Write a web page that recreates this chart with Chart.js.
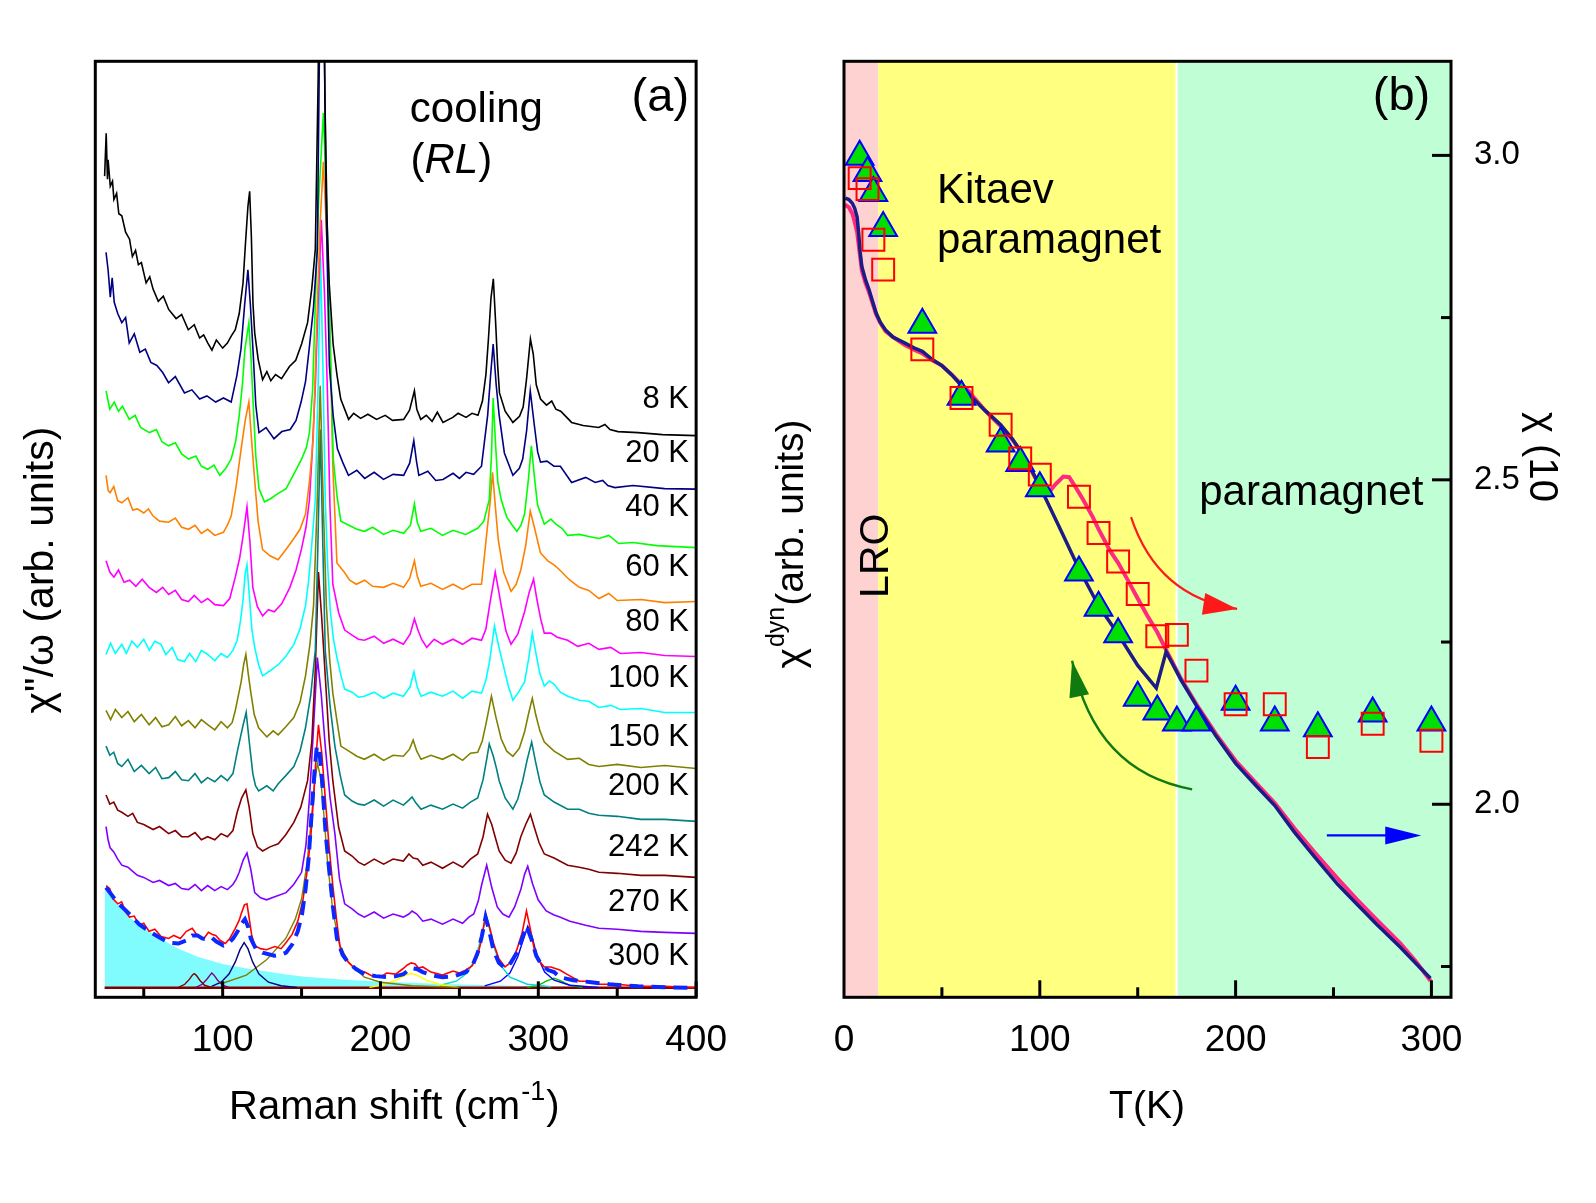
<!DOCTYPE html>
<html>
<head>
<meta charset="utf-8">
<script src="https://cdn.jsdelivr.net/npm/chart.js@4.4.0/dist/chart.umd.min.js"></script>
<style>
  html, body { margin: 0; padding: 0; background: #fff; }
  #wrap { position: relative; width: 1596px; height: 1203px; }
  canvas { position: absolute; top: 0; }
  #ca { left: 0; }
  #cb { left: 740px; }
</style>
</head>
<body>
<div id="wrap">
  <canvas id="ca" width="740" height="1203"></canvas>
  <canvas id="cb" width="856" height="1203"></canvas>
</div>
<script>
// ---------------- panel (a): Raman spectra, [shift cm-1, chi''/omega offset] ----------------
const ramanTicks = [100, 200, 300, 400];
const ramanMinor = [50, 150, 250, 350];
const tempNames = ['8 K', '20 K', '40 K', '60 K', '80 K', '100 K', '150 K', '200 K', '242 K', '270 K', '300 K'];

const spec8K = [[25.2,80.5],[26.2,84.7],[27.0,80.2],[27.4,82.1],[28.8,79.5],[30.2,80],[31.1,78.2],[32.8,78.8],[34.2,76.8],[36.1,76.6],[38.5,75],[41,74.3],[42.8,72.6],[44.8,73.2],[46.6,71.8],[48.5,72],[51.5,70],[53.8,70.6],[55.9,69.4],[59.2,68.2],[62.4,68.7],[65.8,67.4],[70.5,66.5],[74,66.9],[78.2,65.4],[82,65.9],[85.4,64.6],[88,64.9],[90.6,64.1],[93.2,63.4],[96,64.4],[100,63.6],[103,64.1],[105.5,64.8],[108,65.4],[110.5,67],[112.9,70],[114.5,74],[116,77.5],[117.1,79],[118.2,74.5],[119.2,68],[120.3,65.1],[122.5,62.5],[125.3,60.5],[128,61.3],[130.5,60.4],[133.5,61],[137.3,60.6],[142.3,61.8],[146.3,62.4],[150,64],[153.8,66.1],[156.5,69.5],[158.7,73.3],[160.5,90],[162,112],[163.2,112],[164.8,88],[166.2,76],[167.5,70],[170,64],[172.4,61],[174.8,58.6],[179.8,56.6],[183,57.2],[187.4,56.7],[192,57.1],[197.5,56.6],[203,57],[207.6,56.5],[214.7,56.6],[218.4,57.5],[220.2,58.6],[221.5,59.4],[223,57.6],[225.5,56.6],[229,57],[232.7,56.4],[236,57.3],[239.6,56.3],[245.8,56.8],[249.2,57.2],[254.2,56.8],[258,57.2],[261.8,57],[264.6,58.4],[266.8,61],[268.4,64.5],[270,68.5],[271.5,70.4],[273,66],[274.2,62],[275.4,59.2],[279,57.4],[283.9,56.3],[288.1,56.9],[290.4,57.8],[292.5,60.5],[295,64.5],[296.8,63],[298.7,60],[301.4,58.6],[305.2,58],[308.5,58.4],[311.1,57.6],[314.2,57.4],[321.1,56.3],[328.4,56],[338.3,55.8],[342.2,56.1],[345.4,55.6],[350.5,55.4],[363.2,55.3],[378.7,55.1],[400,55]];

const spec20K = [[26.1,73],[27.4,71.3],[28.8,68.6],[30,70.5],[31.3,68.1],[33.5,67],[36.1,66.1],[38.5,66.6],[40.8,64.1],[44,65],[47.5,63.2],[51,63.5],[54.5,62.2],[58.3,61.9],[62,61.2],[65.7,60.2],[70,60.8],[75.8,59.2],[80.5,59.5],[85.4,58.6],[90,58.9],[95.6,58.3],[100.5,58.7],[105.4,58.3],[109,60.9],[111.6,63.5],[114,68],[116,71.3],[117.5,68],[119.2,63.5],[121,58],[123,55.3],[127.5,55.8],[132.5,54.7],[137.5,55.4],[142.8,55.6],[146.5,56.5],[149.7,58.3],[152.5,60.3],[154.8,63.5],[157.5,67.5],[160,73.3],[161.8,100],[162.8,115],[164,100],[165.5,78],[167.6,61.9],[170,57],[172.7,53.7],[176,52.4],[179.7,51.1],[185,51.6],[190,50.8],[196,51.4],[201.9,50.7],[208,51.2],[214.7,51.1],[218.5,52.3],[221.1,54.5],[222.8,52.5],[224.3,51.1],[230,51.5],[235,50.6],[239.6,50.7],[246,51.3],[250,50.8],[254.2,51.4],[259,51.2],[264,52],[267.9,57],[269.8,61],[271.4,64],[273.3,60],[275.2,57],[278.5,53.3],[283.9,51.1],[288,51.8],[290.1,52.7],[292.6,55.5],[294.9,59.4],[297.5,56],[299.6,53.4],[301.4,52.4],[305.5,52.5],[309.9,52],[314,52],[321.1,50.4],[330,50.9],[336,50.4],[340.8,50.6],[344,50.1],[348.5,49.9],[360,50.1],[380,49.8],[400,49.75]];

const spec40K = [[26.1,59.4],[28.5,57.6],[31.3,58.3],[34,57.4],[36.5,57.9],[40.8,56.6],[44.5,57],[48,55.8],[53.6,55.3],[58,55.6],[61.5,54.4],[65.7,54],[70,54.3],[74,53.2],[78.4,52.7],[83,53],[86.5,52],[90.5,51.7],[94.5,52.1],[98.2,51.1],[102,51.8],[105.4,52.7],[108.3,54.5],[110.5,57],[112.5,60],[114.1,63.5],[116.6,66.1],[118,62.5],[119.2,58.6],[121,53],[123,49.8],[126.5,48.5],[130.3,48.8],[135,49.3],[140.2,49.8],[145,51.2],[150,52.7],[153,53.8],[155,55.3],[157,59.5],[158.7,68],[160.8,78],[163.8,86.7],[165.8,78],[167.6,67.8],[169,59],[170.1,52.7],[172.5,49],[174.9,46.6],[180,46.2],[185,45.8],[189.9,45.6],[195,46],[202,45.3],[208,45.7],[214.7,45.4],[219,46.2],[221.5,48.3],[223.3,46.5],[225.5,45.6],[232,45.9],[239.3,45.2],[246,45.7],[254,45.3],[261.6,45.9],[265.5,46.6],[268.9,48.7],[270.3,53],[271.4,58.7],[272.8,54.5],[274.3,50.5],[276.5,48.7],[280,47],[283.5,46.2],[286.4,45.6],[289,46.2],[291.3,47.3],[293.6,50.5],[295.6,54],[297.5,51],[299.5,48.2],[303.8,46.3],[308,46.8],[311.2,46.3],[315,45.9],[318.6,45.2],[326,45.3],[332,45.1],[338.3,44.9],[344.7,45.2],[351,44.4],[360,44.5],[375,44.2],[400,44]];

const spec60K = [[26.1,51.1],[27.5,49.6],[28.7,49.4],[31,50],[33.5,48.6],[36.1,48.4],[40,48.9],[43,47.7],[46,47.8],[50,47.4],[53,47.8],[55.9,47.1],[60,46.6],[65.7,46.5],[70,46.9],[74,46],[78.4,45.8],[82.5,46.2],[86.5,45.4],[90.5,45.8],[95,45.2],[100.5,45.5],[103,46.2],[105.4,47.1],[108.5,50],[111.7,53.7],[114.3,56.5],[116.6,58.3],[118.6,54],[120.4,50.4],[122.5,46.5],[125.3,43.8],[130,43.2],[135.1,42.8],[140,43.8],[145.1,44.9],[149,45.8],[152.5,47.3],[155,50.5],[157.4,54.8],[160,67.8],[161.8,76],[163.8,81.9],[165.8,75],[167.6,67.8],[169.8,52],[172.4,42.5],[177,41.6],[180.5,40.8],[184.7,40.4],[190,40.8],[195,40.2],[201.9,40.1],[208,40.5],[214.7,40.1],[218.5,41],[221.5,42.7],[223.3,41.2],[225.5,40.2],[232,40.5],[239.3,39.9],[246,40.4],[252,39.9],[258,40.4],[264,40.4],[267.6,45.8],[269.5,48.5],[271,51.4],[272.8,48],[274.6,44.8],[278,41.6],[282.7,39.7],[286,40.4],[288.9,41.8],[292,44.2],[294.9,47.6],[297.5,46],[301.3,43.5],[306,42.7],[310,42.3],[313.6,41.8],[320,40.8],[326,40.1],[332,39.8],[338.4,39],[344.7,39.5],[350,38.8],[365,38.9],[380,38.6],[400,38.7]];

const spec80K = [[26.1,42.7],[28.5,41.6],[31.1,41.1],[34,41.8],[37.5,40.6],[41,40.8],[45,40.2],[49,40.9],[53.4,40.1],[58,39.6],[62,40.1],[65.8,39.4],[70,39.8],[74,38.9],[78.3,38.7],[82,39.3],[86.5,38.6],[90.5,39],[95,38.4],[100.5,38.3],[104.5,39],[108,41.1],[110.8,43],[113,45.2],[115.4,48],[117.3,44.5],[119.1,40.1],[122,38.2],[125.3,37.3],[129,37.9],[132.7,37.7],[137.5,38.5],[142.6,40.1],[146.5,41.8],[150,43.9],[152.8,46],[155,48.7],[156.8,53.5],[158.7,59.8],[160.5,68],[162.5,76.2],[164.5,69],[166.3,59.8],[168,48],[169.8,40.4],[173.5,37.6],[177.3,35.9],[182,35.4],[186,35],[189.8,34.9],[196,35.3],[202,34.6],[208,35],[214.5,34.5],[218.8,35.5],[221.5,37],[223.5,36],[226,35],[229.3,34.2],[234,35],[239.3,34.5],[246,35],[252,34.5],[258,35.1],[264,34.9],[266.8,36],[269.1,38.3],[272.7,41.6],[274.6,40],[276.5,38.3],[279.5,35.8],[282.7,34.5],[287,35.5],[291.3,37.7],[294.2,39.6],[297,40.9],[299,39],[301.5,37],[303.8,35.6],[308,35.6],[312,35.2],[318.6,34.9],[325,34.3],[332,34.6],[338.4,34],[345.9,34.2],[352,33.6],[365,33.7],[380,33.4],[400,33.3]];

const spec100K = [[26.1,33.5],[29,34.6],[32,33.6],[36.1,34.5],[39,33.6],[42.5,34.8],[46,34.2],[50,35],[53.5,33.9],[57,34.8],[60.9,34.5],[64,33.5],[68,34.2],[71.5,33],[75.7,32.8],[79,33.6],[83,32.8],[86.5,33.9],[90.5,33.5],[95,32.9],[99,33.6],[103,33.2],[106.5,33.9],[109.2,34.9],[111.3,36.8],[113,39],[114.3,41.5],[115.4,42.3],[116.8,39.5],[118.5,36],[120.3,34.2],[122.8,32.5],[125.3,31.4],[130,31.9],[135.2,32.5],[140,33.3],[145.1,34.5],[149,36],[152.5,38.3],[154.5,40.8],[156.2,43.8],[158.7,48.7],[160.5,60],[162,72.6],[163.5,62],[165,48.7],[166.6,42],[168.2,37.8],[170.2,35],[172.4,33.2],[175,31.4],[177.3,30.1],[182,29.8],[186,29.3],[189.8,29.4],[196,29.8],[202,29.2],[208,29.7],[214.5,29.4],[218.7,30.3],[221.2,31.8],[223.3,30.3],[225.7,29.4],[232,29.8],[239.3,29.4],[246,29.9],[252,29.2],[258,29.9],[264,29.7],[266.8,31],[269.1,32.8],[272.2,36.3],[274.8,34.4],[277.7,32.5],[281,30.4],[283.9,29],[287.5,29.8],[291.3,30.8],[294,33.2],[296.2,35.6],[298.5,33.6],[301,31.6],[303.8,30.4],[307,30.9],[309.9,30.6],[314,29.8],[318.6,29.4],[326,29],[332,28.9],[338.4,28.3],[345.9,28.5],[352,28.1],[365,28.2],[380,27.8],[400,27.8]];

const spec150K = [[26.1,28],[29,27.1],[32,28.1],[36.1,27.3],[40,27.9],[44,26.9],[48.5,27.6],[53.4,26.6],[57.5,27.3],[61.5,26.4],[65.8,26.6],[70,27.4],[74,26.5],[78.3,27],[82.5,26.3],[86.5,27.1],[90.5,26.6],[95,26.1],[99,26.9],[103,26.3],[106,26.8],[108,28],[110,29.5],[111.7,30.8],[113.3,32.5],[114.7,33.5],[116.3,31.5],[117.9,29.7],[120,27.6],[122.8,26.3],[128,25.4],[132,26],[135.2,25.6],[140,26.4],[145.1,27.3],[149,28.8],[152.5,31.4],[155.3,34.5],[157.6,38.3],[159.8,48],[161.8,59.9],[163.8,48],[165.7,38.3],[167.8,33],[169.8,29.7],[172.4,27],[174.9,24.5],[180,24],[185,23.5],[189.8,23.2],[196,23.7],[202,23.1],[208,23.6],[214.5,23.5],[218.4,24.2],[220.7,25.1],[223,24],[225.7,23.2],[232,23.6],[239.3,23.2],[246,23.7],[252,23.1],[257,23.8],[261.6,23.9],[264.5,25],[267,26.8],[270.3,29.4],[273.2,27.3],[276.5,25.2],[280,24],[283.9,23.5],[288,24.3],[291.3,25.9],[294,27.8],[296.2,29.2],[298.5,27.5],[301,26],[303.8,24.9],[310,24],[318.6,23.2],[326,23.3],[332,22.7],[338.4,22.5],[350,22.7],[365,22.4],[380,22.6],[400,22.3]];

const spec200K = [[26.1,24.5],[28.5,23.6],[31,23.9],[33.5,22.8],[36.1,22.5],[40,23.2],[44,22],[48.5,22.6],[53.4,21.8],[57.5,22.4],[61.5,21.3],[65.8,21.4],[70,22],[74,21.2],[78.3,21.1],[82.5,21.8],[86.5,20.9],[90.5,21.4],[95,21],[99,21.6],[103,21.1],[106.5,21.8],[109.2,23.9],[111.3,25.4],[113,26.6],[114.9,27.8],[116.8,25],[119.1,21.8],[120.8,20.6],[122.8,20.1],[128,20.6],[132,20.1],[135.2,20.8],[140,21.6],[145.1,22.5],[149,24],[152.5,26.3],[155.8,29.5],[158.7,33.9],[160.3,44],[161.9,55.6],[163.5,44],[165,33.9],[168,28.5],[171.1,24.5],[174.5,21.6],[177.3,19.7],[182,19.1],[186,18.8],[189.8,18.7],[196,19.2],[202,18.6],[208,19.2],[214.5,18.7],[218,19.2],[220,19.5],[222.5,18.9],[225.7,18.3],[232,18.7],[239.3,18.3],[246,18.8],[252,18.4],[257,19],[261.6,19.4],[265,21.2],[267.5,23.4],[268.9,24.7],[271.5,23.5],[273.5,22.3],[275.2,21.1],[279,19.4],[283.9,18.3],[287,19.3],[290.1,21.1],[293,23.2],[295.8,24.9],[298.2,23],[301,21],[303.8,19.7],[310,19],[318.6,18.3],[326,18.3],[332,17.9],[338.4,17.7],[350,17.6],[365,17.3],[380,17.3],[400,17.1]];

const spec242K = [[26.1,19.7],[28.5,18.8],[31,19],[33.5,18.2],[36.1,18],[40,17.6],[43,17.9],[46,17],[50,16.8],[55.9,16.3],[60,16.6],[65.8,15.9],[70,16.2],[74,15.6],[78.3,15.6],[82.5,16],[86.5,15.3],[90.5,15.6],[95,15.3],[99,15.9],[103,15.6],[106.5,16.2],[109.2,18],[112,19.4],[114.7,20.2],[116.8,18.5],[119.1,15.9],[122,14.6],[125.3,14.2],[130,14.6],[135.2,14.9],[140,15.8],[145.1,17],[149.5,18.5],[153.8,21.1],[156.5,25],[158.7,32.1],[160.7,41.6],[162.8,37],[165,31.4],[167.5,25],[169.8,21.1],[173.5,16.5],[177.3,14.2],[182,13.7],[186,13.1],[189.8,12.8],[196,13.4],[202,12.9],[208,13.4],[214.5,13.2],[218,13.9],[220.7,13.5],[223.5,13.4],[226.8,12.8],[232,13.1],[239.3,12.5],[246,13.1],[252,12.6],[257,13.4],[261.6,13.9],[265,15.6],[267.8,17.8],[270.5,16.8],[272.8,15.5],[275.2,14.2],[279,13.3],[282.7,13],[286,14],[288.9,15.6],[292,16.8],[295,17.8],[297.5,16.5],[300.5,15],[303.8,13.9],[310,13.5],[318.6,12.8],[326,12.6],[332,12.4],[338.4,12.1],[350,12],[365,11.8],[380,11.8],[400,11.6]];

const spec270K = [[26.1,16.6],[27.4,15.3],[28.7,14.5],[31,14.1],[33.5,13.4],[36.1,12.8],[40,12.6],[43,12.2],[46,11.8],[50,11.6],[55.9,11.1],[60,11.3],[65.8,10.8],[70,11],[74,10.5],[78.3,10.4],[82.5,10.9],[86.5,10.3],[90.5,10.8],[95,10.3],[99,10.7],[103,10.4],[106.5,10.9],[108.5,11.4],[110.5,12.1],[113,13.3],[115.4,14],[117.8,12.4],[120.3,10.1],[124,9.6],[127.8,9.4],[133,9.7],[140.2,10.1],[145,10.9],[150,12.1],[152.8,14.8],[155,19.4],[157.4,25.8],[160,33.2],[162.5,29.5],[165,24.5],[168,19.5],[171.1,15.9],[174,11.5],[177.3,9],[182,8.5],[186,8],[189.8,7.7],[196,8.2],[202,7.6],[208,8],[214.5,7.7],[218,8],[220,8.3],[223,8],[226.8,7.3],[232,7.5],[239.3,7],[246,7.5],[252,7.1],[256,7.7],[259.1,8],[262,9.3],[264,10.8],[267.3,12.8],[270.5,10.6],[274,8.7],[277.5,8],[281.4,7.7],[285,8.7],[288.9,10.4],[291.3,11.9],[293.3,12.7],[296.3,11],[299.9,9.4],[305,8.3],[310,7.9],[313.6,7.7],[320,7.3],[330,6.9],[338.4,6.6],[350,6.5],[365,6.3],[380,6.2],[400,6.1]];

const spec300K = [[26.1,10.8],[28.5,10.5],[30.5,9.5],[33.6,9],[36,9.2],[38.5,8.2],[41,7.7],[44,7.8],[47,6.9],[50,7.1],[53.4,6.3],[57,6.5],[61,5.8],[65.8,5.6],[69,5.9],[73.2,5.6],[77,6.3],[80.7,6.6],[83.5,6],[86,5.7],[88.1,5.6],[91,6.2],[93.5,6],[95.6,5.9],[98.5,5.4],[101.7,5.1],[104.5,5.6],[108,6.6],[110.5,7.4],[111.7,8],[113.8,8.9],[115.4,9],[116.8,7.6],[118.3,6],[120.3,4.9],[124,4.6],[127.8,4.5],[133,4.8],[137,4.6],[140.2,5.2],[144,6],[147.6,7.3],[150.8,9.3],[153.8,12.5],[155.8,15.5],[157.6,19.4],[159.2,23.5],[160.7,26.6],[162.8,23.8],[165,19.4],[167.5,14.5],[169.8,10.8],[172.5,7],[174.9,4.2],[179.5,3.3],[184.7,2.5],[190,2.3],[195,1.9],[199.6,1.8],[204,2.2],[209.6,2.1],[214,2.6],[217,3],[219.5,3.2],[222,3.1],[224,2.7],[226.8,2.8],[232,2.3],[239.3,2],[246,2.4],[250,2.2],[254.2,2.5],[258,2.9],[261.6,3.9],[264,5.5],[266.6,8],[269,6.8],[271.5,5.2],[275,3.6],[278.9,2.8],[283,3.3],[286.4,4.5],[289.8,6.2],[292.5,8.3],[295,6.5],[297.5,4.5],[300.5,3.4],[303.8,2.8],[308,2.8],[313.6,2.5],[318,2.1],[326,1.4],[332,1.4],[338.4,1.1],[350,1.1],[363.2,0.9],[380,0.9],[400,0.75]];

// fit of the 300 K spectrum and its components
const fitSum = [[26.1,10.6],[33.5,9.1],[41,8],[47,7],[53.4,6.3],[60,5.7],[65.8,5.2],[72,5.1],[77,5.4],[80.7,5.9],[84,5.9],[87,5.6],[90.5,5.5],[93,5.7],[96,5.3],[100.5,4.9],[103.5,5.1],[106.6,5.6],[109.5,6.3],[111.7,7],[114.1,7.5],[116,6.8],[117.8,5.6],[121,4.6],[125.3,4.2],[132.7,3.9],[137,4],[140.2,4.2],[144,5],[147.6,6.3],[150.3,8],[152.5,10.4],[154.5,13.5],[156.3,17.7],[158.2,22],[159.7,24.5],[161.3,24],[163.3,20.5],[165.2,16],[167.4,12.5],[169.8,8.8],[172.4,5.6],[176,4],[179.8,3.2],[184.5,2.6],[189.8,2.1],[197,1.9],[204.6,1.8],[210,1.9],[214.5,2.1],[219.5,2.7],[223,2.6],[226.8,2.3],[232,2],[239.3,1.8],[247,1.9],[254.2,2.3],[258.5,3],[261.6,4.2],[264.2,5.8],[266.6,7.7],[269,6.3],[271.5,4.5],[275,3.2],[278.9,2.7],[282.5,3.2],[286.4,4.2],[289.8,5.6],[292.5,6.8],[295.5,5.6],[298.7,3.9],[302,3],[306.2,2.5],[310,2.3],[313.6,1.8],[322,1.5],[333.5,1.3],[345,1.1],[363.2,0.9],[380,0.8],[400,0.75]];
const fitBackground = [[25.2,10.4],[26.2,10.2],[33.5,8.9],[41,7.7],[47,6.9],[53.4,6.3],[60,5.7],[65.8,5.1],[72,4.6],[78.2,4.2],[84,3.8],[90.6,3.5],[100,3.1],[115.4,2.65],[128,2.35],[140.2,2.06],[152,1.85],[165,1.7],[177,1.55],[189.7,1.44],[202,1.35],[214.5,1.27],[240,1.13],[264.1,1.03],[298.2,0.9],[340,0.84],[399.2,0.8],[400,0.8]];
const fitBaseline = [[25.2,0.75],[400,0.75]];
const fitPeak82 = [[72,0.8],[76,1.1],[79,1.6],[80.8,2.0],[81.9,2.15],[83.2,2.0],[85.5,1.5],[88.5,1.0],[93,0.8]];
const fitPeak93 = [[83,0.8],[87,1.1],[90,1.6],[92,2.0],[93.1,2.2],[94.5,2.0],[96.8,1.5],[100,1.0],[104,0.8]];
const fitPeak114 = [[93,0.9],[99,1.3],[104,2.1],[108,3.3],[111,4.5],[113.6,5.2],[116,4.6],[119,3.3],[123,2.1],[129,1.3],[137,0.95],[147,0.8]];
const fitPeak160 = [[100,1.2],[115,2.0],[127.8,3.5],[140,5.6],[146,7.5],[150,9.5],[153.5,13],[156,17],[158,20.5],[160,22.8],[162,21.5],[164,18],[166.5,13],[169.8,8.3],[174,5],[180,3.2],[189.8,1.8],[200,1.3],[220,0.95],[250,0.8]];
const fitPeak219 = [[193,0.8],[203,1.1],[210,1.5],[216,2.0],[219.4,2.15],[223,2.0],[229,1.5],[237,1.1],[249,0.8]];
const fitPeak267 = [[238,1.0],[248,1.4],[255,2.2],[260,3.6],[263,5.2],[265.5,6.8],[267.1,7.3],[269,6.6],[272,4.7],[276,3.0],[282,1.8],[293,1.1],[308,0.85]];
const fitPeak293 = [[266,0.95],[276,1.4],[282,2.2],[287,3.8],[290.5,5.5],[293.3,6.8],[296,5.8],[299,4.0],[304,2.3],[310,1.5],[320,1.0],[338,0.8]];
const fitPeak310 = [[293,0.8],[300,1.0],[305,1.4],[310,1.7],[314,1.45],[320,1.0],[328,0.8]];

// ---------------- panel (b): susceptibilities vs temperature ----------------
const tempTicks = [0, 100, 200, 300];
const tempMinor = [50, 150, 250];
const chiTicks = [2.0, 2.5, 3.0];
const chiMinor = [1.75, 2.25, 2.75];

const tempDyn = [8, 12, 15, 20, 40, 60, 80, 90, 100, 120, 130, 140, 150, 160, 170, 180, 200, 220, 242, 270, 300];
const chiDynTri = [2.998, 2.973, 2.942, 2.888, 2.739, 2.628, 2.556, 2.526, 2.487, 2.357, 2.303, 2.262, 2.164, 2.143, 2.126, 2.126, 2.158, 2.126, 2.117, 2.140, 2.126];
const chiDynSq = [2.965, 2.948, 2.870, 2.824, 2.701, 2.626, 2.585, 2.533, 2.508, 2.474, 2.418, 2.374, 2.324, 2.259, 2.261, 2.206, 2.154, 2.154, 2.088, 2.124, 2.098];

const tempCool = [0.7, 2.5, 4.3, 5.5, 6.7, 7.5, 8.2, 9.1, 11, 12.8, 14.6, 16.4, 18.5, 21.2, 25, 30.9, 36, 40, 45.3, 50, 55, 60, 66, 72, 80, 86, 90, 95, 100, 110, 120, 130, 140, 150, 159.5, 164.5, 172, 180, 190, 200, 210, 220, 230, 240, 252, 262, 272, 284, 292, 299.5];
const chiCool = [2.934, 2.932, 2.926, 2.918, 2.905, 2.88, 2.852, 2.829, 2.808, 2.793, 2.775, 2.757, 2.743, 2.731, 2.72, 2.711, 2.703, 2.698, 2.685, 2.676, 2.662, 2.645, 2.625, 2.607, 2.585, 2.563, 2.545, 2.52, 2.49, 2.427, 2.363, 2.306, 2.262, 2.214, 2.179, 2.235, 2.192, 2.152, 2.105, 2.063, 2.03, 1.998, 1.957, 1.92, 1.877, 1.846, 1.815, 1.78, 1.755, 1.732];
const tempHeat = [0.5, 2.5, 4.3, 5.5, 6.7, 7.5, 8.2, 9.1, 11, 12.8, 14.6, 16.4, 18.5, 21.2, 25, 30.9, 36, 40, 45.3, 50, 55, 60, 64, 66, 72, 80, 86, 90, 95, 100, 104, 108, 112, 115, 118, 122, 127, 130, 136, 140, 145, 150, 155, 160, 164.5, 172, 180, 190, 200, 210, 220, 230, 240, 252, 262, 272, 284, 292, 299.5];
const chiHeat = [2.924, 2.92, 2.91, 2.897, 2.882, 2.862, 2.845, 2.823, 2.803, 2.789, 2.772, 2.755, 2.742, 2.729, 2.72, 2.708, 2.7, 2.695, 2.684, 2.676, 2.662, 2.647, 2.636, 2.628, 2.607, 2.583, 2.562, 2.545, 2.518, 2.49, 2.478, 2.493, 2.505, 2.504, 2.49, 2.47, 2.443, 2.424, 2.39, 2.372, 2.345, 2.317, 2.29, 2.265, 2.238, 2.194, 2.154, 2.108, 2.067, 2.034, 2.002, 1.963, 1.927, 1.886, 1.853, 1.822, 1.786, 1.758, 1.728];

// ---------------- drawing ----------------
const FONT = "'Liberation Sans', Arial, sans-serif";
Chart.defaults.font.family = FONT;
Chart.defaults.color = '#000';

const pts = arr => arr.map(p => ({ x: p[0], y: p[1] }));
const zipPts = (xs, ys) => xs.map((x, i) => ({ x, y: ys[i] }));

function txt(ctx, s, x, y, font, align) {
  ctx.font = font;
  ctx.textAlign = align || 'left';
  ctx.textBaseline = 'alphabetic';
  ctx.fillStyle = '#000';
  ctx.fillText(s, x, y);
}

function tickMarks(ctx, list, toPx, len, vertical, edge) {
  list.forEach(v => {
    const p = toPx(v);
    ctx.beginPath();
    if (vertical) { ctx.moveTo(p, edge); ctx.lineTo(p, edge - len); }
    else { ctx.moveTo(edge, p); ctx.lineTo(edge - len, p); }
    ctx.stroke();
  });
}

const spectra = [spec8K, spec20K, spec40K, spec60K, spec80K, spec100K, spec150K, spec200K, spec242K, spec270K, spec300K];
const specColors = ['#000000', '#000080', '#00ff00', '#ff8000', '#ff00ff', '#00ffff', '#808000', '#008080', '#800000', '#8000ff', '#ff0000'];
const tempLabelY = [57.7, 52.4, 47.1, 41.2, 35.8, 30.3, 24.5, 19.7, 13.7, 8.3, 3.0];

const partSets = [
  [fitPeak82, '#800000'], [fitPeak93, '#800080'], [fitPeak114, '#000080'], [fitPeak160, '#808000'],
  [fitPeak219, '#ffff00'], [fitPeak267, '#00d8d8'], [fitPeak293, '#0000ff'], [fitPeak310, '#00c000']
];

const dsA = [];
dsA.push({ data: pts(fitSum), borderColor: '#0a28ff', borderWidth: 4, borderDash: [14, 8], pointRadius: 0, order: 0 });
spectra.forEach((s, i) => dsA.push({
  data: pts(s), borderColor: specColors[i], borderWidth: 1.6, pointRadius: 0, order: i === 10 ? 1 : 3
}));
partSets.forEach(([d, c]) => dsA.push({ data: pts(d), borderColor: c, borderWidth: 1.4, pointRadius: 0, order: 4 }));
dsA.push({ data: pts(fitBaseline), borderColor: '#800000', borderWidth: 2.5, pointRadius: 0, order: 5 });
dsA.push({ data: pts(fitBackground), borderWidth: 0, borderColor: 'rgba(0,0,0,0)', backgroundColor: '#80fcff', fill: { value: 0.75 }, pointRadius: 0, order: 10 });

const decorA = {
  id: 'decorA',
  afterDatasetsDraw(chart) {
    const { ctx, chartArea: a, scales: { x } } = chart;
    ctx.save();
    ctx.strokeStyle = '#000';
    ctx.lineWidth = 3;
    tickMarks(ctx, ramanTicks, v => x.getPixelForValue(v), 16, true, a.bottom);
    tickMarks(ctx, ramanMinor, v => x.getPixelForValue(v), 9, true, a.bottom);
    ctx.strokeRect(a.left, a.top, a.right - a.left, a.bottom - a.top);
    ctx.restore();
  },
  afterDraw(chart) {
    const { ctx, scales: { x, y } } = chart;
    ctx.save();
    tempNames.forEach((t, i) => txt(ctx, t, x.getPixelForValue(395.5), y.getPixelForValue(tempLabelY[i]), '31px ' + FONT, 'right'));
    txt(ctx, 'cooling', x.getPixelForValue(218.6), y.getPixelForValue(85.8), '42px ' + FONT);
    let px = x.getPixelForValue(219);
    const py = y.getPixelForValue(80.8);
    txt(ctx, '(', px, py, '42px ' + FONT); px += ctx.measureText('(').width;
    txt(ctx, 'RL', px, py, 'italic 42px ' + FONT); px += ctx.measureText('RL').width;
    txt(ctx, ')', px, py, '42px ' + FONT);
    txt(ctx, '(a)', x.getPixelForValue(395.5), y.getPixelForValue(86.85), '47px ' + FONT, 'right');
    // x title
    let tx = 229;
    txt(ctx, 'Raman shift (cm', tx, 1119, '40px ' + FONT); tx += ctx.measureText('Raman shift (cm').width + 1;
    txt(ctx, '-1', tx, 1100, '27px ' + FONT); tx += ctx.measureText('-1').width + 1;
    txt(ctx, ')', tx, 1119, '40px ' + FONT);
    // y title
    ctx.translate(53, 570);
    ctx.rotate(-Math.PI / 2);
    txt(ctx, 'χ"/ω (arb. units)', 0, 0, '41px ' + FONT, 'center');
    ctx.restore();
  }
};

new Chart(document.getElementById('ca'), {
  type: 'line',
  data: { datasets: dsA },
  options: {
    responsive: false, animation: false, devicePixelRatio: 1, events: [],
    layout: { padding: { left: 95.3, right: 37.8, top: 61.3, bottom: 1203 - 997.3 - 80 } },
    plugins: { legend: { display: false }, tooltip: { enabled: false } },
    scales: {
      x: {
        type: 'linear', min: 19.3, max: 400,
        grid: { display: false }, border: { display: false },
        afterBuildTicks: s => { s.ticks = ramanTicks.map(v => ({ value: v })); },
        afterFit: s => { s.height = 80; },
        ticks: { font: { size: 37 }, padding: 13, maxRotation: 0 }
      },
      y: { type: 'linear', display: false, min: -0.18, max: 91.78 }
    }
  },
  plugins: [decorA]
});

// panel (b)
const bands = [[0, 17.5, '#ffd2d2'], [17.5, 169.4, '#ffff80'], [169.4, 170.4, '#ffffff'], [170.4, 310, '#c0ffd6']];

function arrowHead(ctx, tip, from, len, wid) {
  const ang = Math.atan2(tip.y - from.y, tip.x - from.x);
  const bx = tip.x - len * Math.cos(ang), by = tip.y - len * Math.sin(ang);
  const nx = -Math.sin(ang) * wid / 2, ny = Math.cos(ang) * wid / 2;
  ctx.beginPath();
  ctx.moveTo(tip.x, tip.y);
  ctx.lineTo(bx + nx, by + ny);
  ctx.lineTo(bx - nx, by - ny);
  ctx.closePath();
  ctx.fill();
}

const decorB = {
  id: 'decorB',
  beforeDatasetsDraw(chart) {
    const { ctx, chartArea: a, scales: { x } } = chart;
    ctx.save();
    bands.forEach(([t0, t1, c]) => {
      const x0 = x.getPixelForValue(t0), x1 = x.getPixelForValue(t1);
      ctx.fillStyle = c;
      ctx.fillRect(x0, a.top, x1 - x0, a.bottom - a.top);
    });
    ctx.restore();
  },
  afterDatasetsDraw(chart) {
    const { ctx, chartArea: a, scales: { x, yChi } } = chart;
    const P = (t, c) => ({ x: x.getPixelForValue(t), y: yChi.getPixelForValue(c) });
    ctx.save();
    // red arrow (heating)
    let p0 = P(146.6, 2.4425), c = P(160, 2.32), p2 = P(200.8, 2.301);
    ctx.strokeStyle = '#ff1a1a'; ctx.fillStyle = '#ff1a1a'; ctx.lineWidth = 2.2;
    ctx.beginPath(); ctx.moveTo(p0.x, p0.y); ctx.quadraticCurveTo(c.x, c.y, p2.x, p2.y); ctx.stroke();
    arrowHead(ctx, p2, c, 34, 22);
    // green arrow (cooling)
    p0 = P(177.8, 2.023); c = P(128, 2.05); p2 = P(116.5, 2.221);
    ctx.strokeStyle = '#107a10'; ctx.fillStyle = '#107a10'; ctx.lineWidth = 2.4;
    ctx.beginPath(); ctx.moveTo(p0.x, p0.y); ctx.quadraticCurveTo(c.x, c.y, p2.x, p2.y); ctx.stroke();
    arrowHead(ctx, p2, c, 36, 20);
    // blue arrow (right axis)
    p0 = P(246.6, 1.952); p2 = P(294.8, 1.952);
    ctx.strokeStyle = '#0000ff'; ctx.fillStyle = '#0000ff'; ctx.lineWidth = 2.4;
    ctx.beginPath(); ctx.moveTo(p0.x, p0.y); ctx.lineTo(p2.x - 20, p2.y); ctx.stroke();
    arrowHead(ctx, p2, p0, 36, 18);
    // frame and inward ticks
    ctx.strokeStyle = '#000'; ctx.lineWidth = 3;
    tickMarks(ctx, tempTicks.slice(1), v => x.getPixelForValue(v), 17, true, a.bottom);
    tickMarks(ctx, tempMinor, v => x.getPixelForValue(v), 10, true, a.bottom);
    tickMarks(ctx, chiTicks, v => yChi.getPixelForValue(v), 19, false, a.right);
    tickMarks(ctx, chiMinor, v => yChi.getPixelForValue(v), 10, false, a.right);
    ctx.strokeRect(a.left, a.top, a.right - a.left, a.bottom - a.top);
    ctx.restore();
  },
  afterDraw(chart) {
    const { ctx, scales: { x, yChi } } = chart;
    const X = t => x.getPixelForValue(t), Y = c => yChi.getPixelForValue(c);
    ctx.save();
    txt(ctx, '(b)', X(299.4), Y(3.07), '47px ' + FONT, 'right');
    txt(ctx, 'Kitaev', X(47.5), Y(2.927), '42px ' + FONT);
    txt(ctx, 'paramagnet', X(47.5), Y(2.849), '42px ' + FONT);
    txt(ctx, 'paramagnet', X(181.4), Y(2.461), '42px ' + FONT);
    ctx.save();
    ctx.translate(X(22.5), Y(2.318));
    ctx.rotate(-Math.PI / 2);
    txt(ctx, 'LRO', 0, 0, '41px ' + FONT);
    ctx.restore();
    // x title
    txt(ctx, 'T(K)', 1147 - 740, 1118, '39px ' + FONT, 'center');
    // left title chi^dyn
    ctx.save();
    ctx.translate(803 - 740, 545);
    ctx.rotate(-Math.PI / 2);
    ctx.font = '39px ' + FONT;
    const w1 = ctx.measureText('χ').width, w3 = ctx.measureText('(arb. units)').width;
    ctx.font = '25px ' + FONT;
    const w2 = ctx.measureText('dyn').width;
    let sx = -(w1 + w2 + w3) / 2;
    txt(ctx, 'χ', sx, 0, '39px ' + FONT); sx += w1 + 1;
    txt(ctx, 'dyn', sx, -19, '25px ' + FONT); sx += w2 + 1;
    txt(ctx, '(arb. units)', sx, 0, '39px ' + FONT);
    ctx.restore();
    // right title
    ctx.save();
    ctx.translate(1530 - 740, 412);
    ctx.rotate(Math.PI / 2);
    txt(ctx, 'χ (10', 0, 0, '40px ' + FONT);
    ctx.restore();
    ctx.restore();
  }
};

new Chart(document.getElementById('cb'), {
  type: 'line',
  data: {
    datasets: [
      { data: zipPts(tempDyn, chiDynSq), yAxisID: 'yDyn', showLine: false, pointStyle: 'rect', pointRadius: 15.5,
        backgroundColor: 'rgba(0,0,0,0)', borderColor: '#ff0000', borderWidth: 2, order: 0 },
      { data: zipPts(tempDyn, chiDynTri), yAxisID: 'yDyn', showLine: false, pointStyle: 'triangle', pointRadius: 16,
        backgroundColor: '#00e000', borderColor: '#0000ff', borderWidth: 2, order: 1 },
      { data: zipPts(tempCool, chiCool), yAxisID: 'yChi', borderColor: '#1c1c86', borderWidth: 3.5, pointRadius: 0, order: 2 },
      { data: zipPts(tempHeat, chiHeat), yAxisID: 'yChi', borderColor: '#ff2a80', borderWidth: 4, pointRadius: 0, order: 3 }
    ]
  },
  options: {
    responsive: false, animation: false, devicePixelRatio: 1, events: [],
    layout: { padding: { left: 104, right: 65, top: 61.3, bottom: 1203 - 997.3 - 80 } },
    plugins: { legend: { display: false }, tooltip: { enabled: false } },
    scales: {
      x: {
        type: 'linear', min: 0, max: 310,
        grid: { display: false }, border: { display: false },
        afterBuildTicks: s => { s.ticks = tempTicks.map(v => ({ value: v })); },
        afterFit: s => { s.height = 80; },
        ticks: { font: { size: 37 }, padding: 13, maxRotation: 0 }
      },
      yDyn: { type: 'linear', position: 'left', display: false, min: 1.7025, max: 3.145 },
      yChi: {
        type: 'linear', position: 'right', min: 1.7025, max: 3.145,
        grid: { display: false }, border: { display: false },
        afterBuildTicks: s => { s.ticks = chiTicks.map(v => ({ value: v })); },
        afterFit: s => { s.width = 80; },
        ticks: { font: { size: 33 }, padding: 15, callback: v => v.toFixed(1) }
      }
    }
  },
  plugins: [decorB]
});
</script>
</body>
</html>
